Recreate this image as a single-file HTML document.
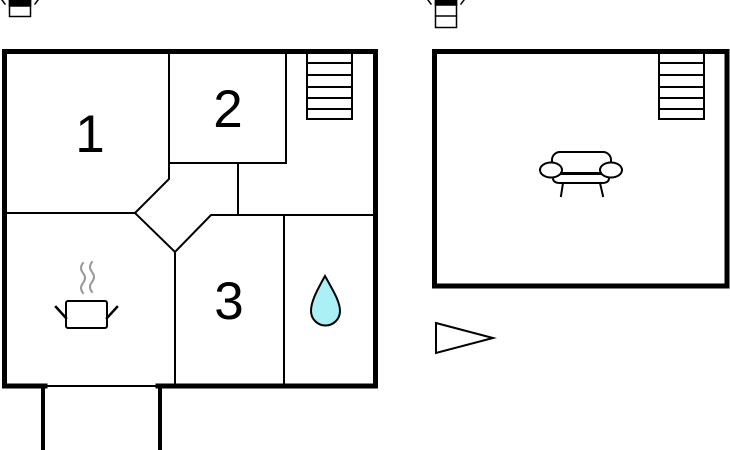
<!DOCTYPE html>
<html><head><style>html,body{margin:0;padding:0;background:#fff;width:730px;height:450px;overflow:hidden}</style></head>
<body>
<svg width="730" height="450" viewBox="0 0 730 450" xmlns="http://www.w3.org/2000/svg">
<g fill="none" stroke="#000" stroke-linecap="square">
<path d="M4.5 386 V51.5 H375.5 V386" stroke-width="5"/>
<path d="M4.5 386 H45 M158 386 H375.5" stroke-width="5"/>
<path d="M45 386 H158" stroke-width="2"/>
<path d="M43 386 V450 M160 386 V450" stroke-width="4"/>
<g stroke-width="2">
<path d="M169 52 V179 L135 213 H5"/>
<path d="M169 163 H286 V52"/>
<path d="M238 163 V215"/>
<path d="M375 215 H211 L175 252 L135 213"/>
<path d="M175 252 V386"/>
<path d="M284 215 V386"/>
<path d="M307 54 V119 H352 V54 M307 63 H352 M307 75 H352 M307 87 H352 M307 98 H352 M307 109 H352"/>
<path d="M659 54 V119 H704 V54 M659 63 H704 M659 75 H704 M659 87 H704 M659 98 H704 M659 109 H704"/>
<rect x="66" y="301" width="41" height="27" rx="2"/>
<path d="M56 307 L66 318 M117 307 L107 318" stroke-width="2.5"/>
<rect x="552" y="152" width="59" height="22" rx="8"/>
<path d="M553 174 V178 Q553 183 560 183 H602 Q609 183 609 178 V174"/>
<ellipse cx="551" cy="170" rx="11" ry="7.5" fill="#fff"/>
<ellipse cx="611" cy="170" rx="11" ry="7.5" fill="#fff"/>
<path d="M561 173 H601 M563 183 L561 196 M600 183 L603 196"/>
<path d="M436 323 L493 338 L436 353 Z"/>
</g>
<path d="M83 263 q-4 5 0 10 q4 5 0 10 q-4 5 0 10 M92 262 q-4 5 0 10 q4 5 0 10 q-4 5 0 10" stroke="#999" stroke-width="2"/>
<rect x="434.5" y="51.5" width="292.5" height="234.5" stroke-width="5"/>
<path d="M325 276 C316 292 311 302 311 311 A14.5 14.5 0 0 0 340 311 C340 302 334 292 325 276 Z" fill="#aaf0f5" stroke-width="2"/>
<rect x="9.5" y="-1" width="21" height="17.5" stroke-width="1.5"/>
<rect x="9.5" y="-1" width="21" height="7" fill="#000" stroke-width="1.5"/>
<path d="M5 4 L2 0 M35 4 L38 0" stroke-width="1.5"/>
<rect x="435.5" y="-1" width="21" height="28.5" stroke-width="1.5"/>
<rect x="435.5" y="-1" width="21" height="6" fill="#000" stroke-width="1.5"/>
<path d="M435.5 16 H456.5" stroke-width="1.5"/>
<path d="M431 4 L428 0 M461 4 L464 0" stroke-width="1.5"/>
</g>
<g font-family="Liberation Sans, sans-serif" font-size="53" text-anchor="middle" fill="#000">
<text x="90" y="152">1</text>
<text x="228" y="127">2</text>
<text x="229" y="319">3</text>
</g>
</svg>
</body></html>
